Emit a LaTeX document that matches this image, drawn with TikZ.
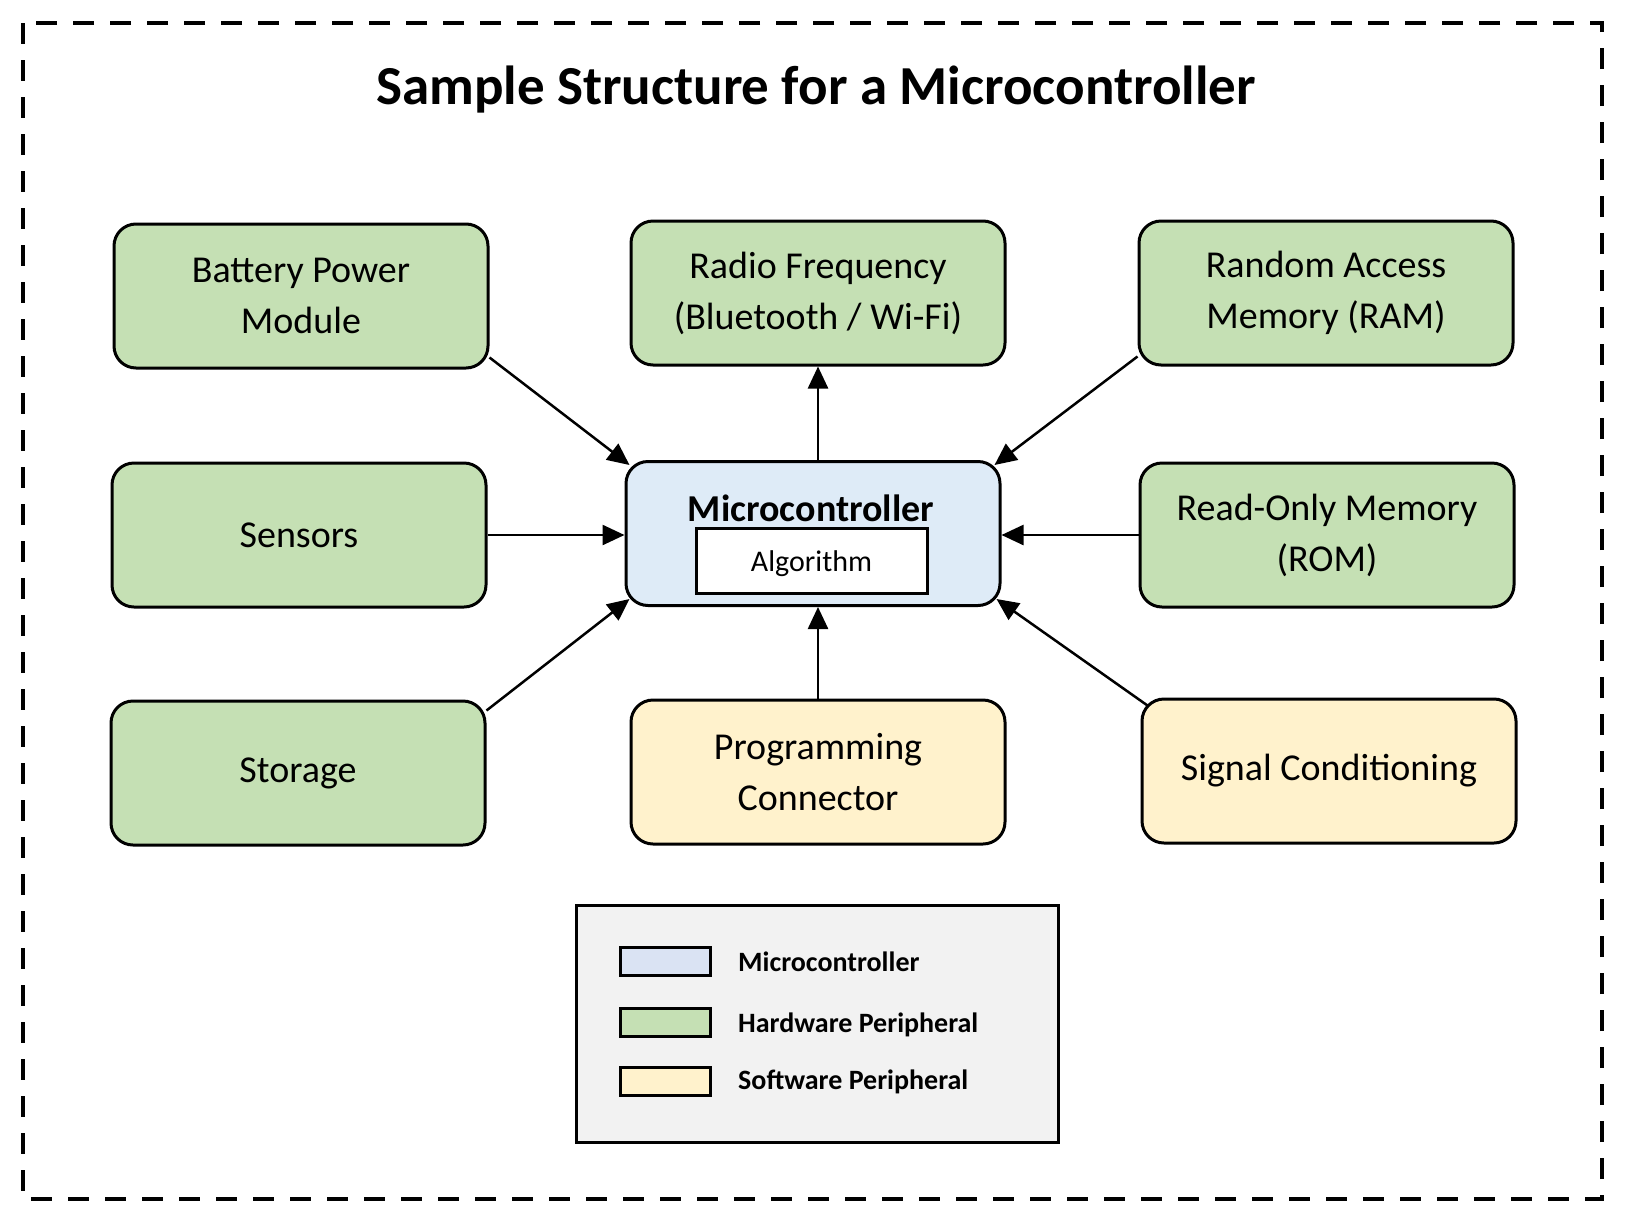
\documentclass[tikz,border=0pt]{standalone}
\usepackage{fontspec}
\setmainfont{Carlito}
\usetikzlibrary{arrows.meta}
\definecolor{hwgreen}{HTML}{C5E0B4}
\definecolor{swyellow}{HTML}{FFF2CC}
\definecolor{mcblue}{HTML}{DEEBF7}
\definecolor{keyblue}{HTML}{DAE3F3}
\definecolor{keygrey}{HTML}{F2F2F2}
\tikzset{
  unit/.style={draw=black, line width=3pt, rounded corners=22pt,
    minimum width=374pt, minimum height=144pt, inner sep=0pt, align=center,
    font=\fontsize{38}{51}\selectfont},
  hw/.style={unit, fill=hwgreen},
  sw/.style={unit, fill=swyellow},
  feed/.style={line width=2.5pt, -{Triangle[length=22pt,width=20pt]}},
  swatch/.style={draw=black, line width=3pt, minimum width=90pt, minimum height=28pt, inner sep=0pt},
  keytext/.style={anchor=west, inner sep=0pt, font=\fontsize{28}{34}\selectfont\bfseries}
}

\begin{document}
\begin{tikzpicture}[x=1pt,y=-1pt]
\useasboundingbox (0,0) rectangle (1627,1221);
\draw[line width=4.5pt, dash pattern=on 21pt off 16pt] (23,23) rectangle (1602,1199);
\node[font=\fontsize{55}{66}\selectfont\bfseries, anchor=base] (title) at (816,104) {Sample Structure for a Microcontroller};

% top row
\node[hw] (battery) at (301,296) {Battery Power\\Module};
\node[hw] (radio) at (818,293) {Radio Frequency\\(Bluetooth / Wi-Fi)};
\node[hw] (ram) at (1326,293) {Random Access\\Memory (RAM)};

% middle row
\node[hw] (sensors) at (299,535) {Sensors};
\node[unit, fill=mcblue] (micro) at (813,533.5) {};
\node[font=\fontsize{38}{46}\selectfont\bfseries] (mctitle) at (811,508) {Microcontroller};
\node[draw=black, line width=3pt, fill=white, minimum width=231pt, minimum height=65pt,
  inner sep=0pt, text height=24pt, text depth=2pt, font=\fontsize{30}{36}\selectfont] (algo) at (811.5,560.5) {Algorithm};
\node[hw] (rom) at (1327,535) {Read-Only Memory\\(ROM)};

% bottom row
\node[hw] (storage) at (298,773) {Storage};
\node[sw] (prog) at (818,772) {Programming\\Connector};
\node[sw] (signal) at (1329,771) {Signal Conditioning};

% connectors
\draw[feed] ([yshift=12pt]battery.south east) -- ([xshift=5pt,yshift=-5pt]micro.north west);
\draw[feed] (micro.north -| radio.south) -- (radio.south);
\draw[feed] ([yshift=10pt]ram.south west) -- ([xshift=-7pt,yshift=-5pt]micro.north east);
\draw[feed] (sensors.east) -- (sensors.east -| micro.west);
\draw[feed] (rom.west) -- (rom.west -| micro.east);
\draw[feed] ([yshift=-11pt]storage.north east) -- ([xshift=5pt,yshift=8pt]micro.south west);
\draw[feed] (prog.north) -- (prog.north |- micro.south);
\draw[feed] ([xshift=7pt,yshift=-8pt]signal.north west) -- ([xshift=-5pt,yshift=8pt]micro.south east);

% legend
\node[draw=black, line width=3pt, fill=keygrey, minimum width=482pt, minimum height=237pt,
  inner sep=0pt] (legend) at (817,1023.5) {};
\node[swatch, fill=keyblue] (keymc) at (665.5,961) {};
\node[swatch, fill=hwgreen] (keyhw) at (665.5,1022.5) {};
\node[swatch, fill=swyellow] (keysw) at (665.5,1081.5) {};
\node[keytext] (keymclbl) at (738,962) {Microcontroller};
\node[keytext] (keyhwlbl) at (738,1025) {Hardware Peripheral};
\node[keytext] (keyswlbl) at (738,1082) {Software Peripheral};
\end{tikzpicture}
\end{document}
